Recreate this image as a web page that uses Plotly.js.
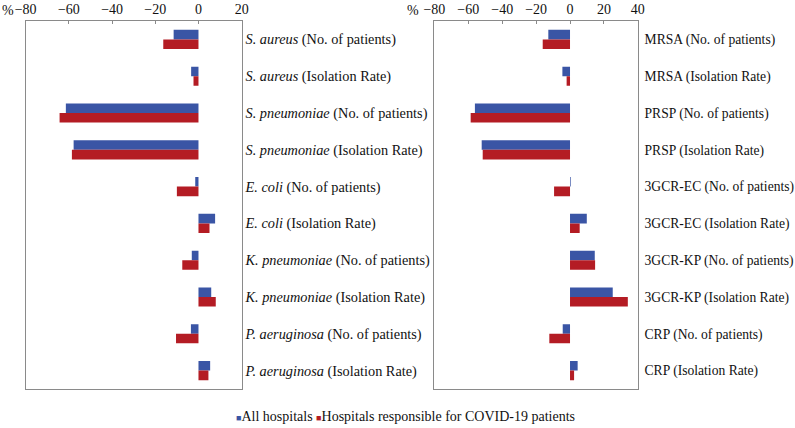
<!DOCTYPE html>
<html>
<head>
<meta charset="utf-8">
<script src="https://cdn.plot.ly/plotly-3.0.1.min.js"></script>
<style>html,body{margin:0;padding:0;background:#fff;}#chart{width:795px;height:428px;}</style>
</head>
<body>
<div id="chart"></div>
<script>
// Left panel: species
const leftCategories = [
  "<i>S. aureus</i> (No. of patients)",
  "<i>S. aureus</i> (Isolation Rate)",
  "<i>S. pneumoniae</i> (No. of patients)",
  "<i>S. pneumoniae</i> (Isolation Rate)",
  "<i>E. coli</i> (No. of patients)",
  "<i>E. coli</i> (Isolation Rate)",
  "<i>K. pneumoniae</i> (No. of patients)",
  "<i>K. pneumoniae</i> (Isolation Rate)",
  "<i>P. aeruginosa</i> (No. of patients)",
  "<i>P. aeruginosa</i> (Isolation Rate)"
];
const leftAll = [-11.5, -3.4, -61.4, -57.8, -1.5, 7.7, -3.1, 5.9, -3.5, 5.4];
const leftCovid = [-16.3, -2.3, -64.3, -58.6, -10.0, 5.1, -7.5, 8.0, -10.4, 4.6];

// Right panel: resistant organisms
const rightCategories = [
  "MRSA (No. of patients)",
  "MRSA (Isolation Rate)",
  "PRSP (No. of patients)",
  "PRSP (Isolation Rate)",
  "3GCR-EC (No. of patients)",
  "3GCR-EC (Isolation Rate)",
  "3GCR-KP (No. of patients)",
  "3GCR-KP (Isolation Rate)",
  "CRP (No. of patients)",
  "CRP (Isolation Rate)"
];
const rightAll = [-12.8, -4.5, -56.1, -52.1, 0.4, 9.9, 14.6, 25.2, -4.3, 4.5];
const rightCovid = [-16.1, -2.0, -58.6, -51.5, -9.4, 5.7, 14.8, 34.1, -12.2, 2.4];

const seriesNames = ["All hospitals", "Hospitals responsible for COVID-19 patients"];
const xTicksLeft = [-80, -60, -40, -20, 0, 20];
const xTicksRight = [-80, -60, -40, -20, 0, 20, 40];

const BLUE = "#3a55a5";
const RED = "#b41c24";
const SERIF = "Liberation Serif, Times New Roman, serif";

const traces = [
  {type: "bar", orientation: "h", name: seriesNames[0], x: leftAll, y: leftCategories,
   xaxis: "x", yaxis: "y", marker: {color: BLUE}},
  {type: "bar", orientation: "h", name: seriesNames[1], x: leftCovid, y: leftCategories,
   xaxis: "x", yaxis: "y", marker: {color: RED}},
  {type: "bar", orientation: "h", name: seriesNames[0], x: rightAll, y: rightCategories,
   xaxis: "x2", yaxis: "y2", marker: {color: BLUE}},
  {type: "bar", orientation: "h", name: seriesNames[1], x: rightCovid, y: rightCategories,
   xaxis: "x2", yaxis: "y2", marker: {color: RED}}
];

const axisLine = {showline: true, linecolor: "#8a8a8a", linewidth: 1, mirror: true,
  showgrid: false, zeroline: false};

const legendText =
  "<span style='color:" + BLUE + ";font-size:9px'>■</span>" + seriesNames[0] + " " +
  "<span style='color:" + RED + ";font-size:9px'>■</span>" + seriesNames[1];

const layout = {
  width: 795, height: 428,
  margin: {l: 0, r: 0, t: 0, b: 0},
  paper_bgcolor: "#ffffff", plot_bgcolor: "#ffffff",
  font: {family: SERIF, size: 14, color: "#111"},
  barmode: "group", bargap: 0.48, bargroupgap: 0,
  showlegend: false,
  xaxis: Object.assign({}, axisLine, {domain: [0.0323, 0.304], anchor: "y", side: "top",
    range: [-80, 20], tickvals: xTicksLeft, ticks: "inside", ticklen: 3, tickcolor: "#8a8a8a",
    tickfont: {family: SERIF, size: 14, color: "#111"}}),
  yaxis: Object.assign({}, axisLine, {domain: [0.0911, 0.9509], anchor: "x", side: "right",
    type: "category", autorange: "reversed", ticks: "", ticklen: 0,
    tickfont: {family: SERIF, size: 14.3, color: "#111"}}),
  xaxis2: Object.assign({}, axisLine, {domain: [0.5464, 0.8023], anchor: "y2", side: "top",
    range: [-80, 40], tickvals: xTicksRight, ticks: "inside", ticklen: 3, tickcolor: "#8a8a8a",
    tickfont: {family: SERIF, size: 14, color: "#111"}}),
  yaxis2: Object.assign({}, axisLine, {domain: [0.0911, 0.9509], anchor: "x2", side: "right",
    type: "category", autorange: "reversed", ticks: "", ticklen: 0, ticklabelstandoff: 3,
    tickfont: {family: SERIF, size: 13.6, color: "#111"}}),
  annotations: [
    {text: "%", xref: "paper", yref: "paper", x: 0, y: 1 - 11/428, xanchor: "left", yanchor: "middle",
     showarrow: false, font: {family: SERIF, size: 14, color: "#111"}},
    {text: "%", xref: "paper", yref: "paper", x: 413/795, y: 1 - 11/428, xanchor: "center", yanchor: "middle",
     showarrow: false, font: {family: SERIF, size: 14, color: "#111"}},
    {text: legendText, xref: "paper", yref: "paper", x: 405/795, y: 1 - 416/428,
     xanchor: "center", yanchor: "middle", showarrow: false,
     font: {family: SERIF, size: 14, color: "#111"}}
  ]
};

Plotly.newPlot("chart", traces, layout, {displayModeBar: false, staticPlot: true});
</script>
</body>
</html>
